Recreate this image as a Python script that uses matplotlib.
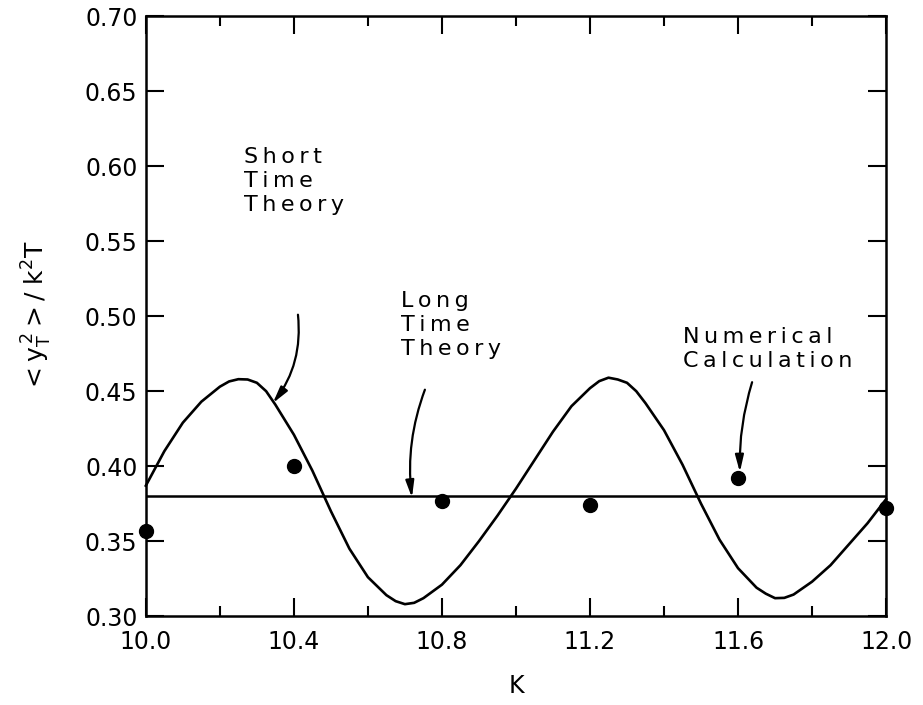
import numpy as np
import matplotlib
matplotlib.use('Agg')
import matplotlib.pyplot as plt

# short time theory curve
k_curve = [10.00, 10.05, 10.10, 10.15, 10.20, 10.225, 10.25, 10.275, 10.30, 10.325,
           10.35, 10.40, 10.45, 10.50, 10.55, 10.60, 10.65, 10.675, 10.70, 10.725,
           10.75, 10.80, 10.85, 10.90, 10.95, 11.00, 11.05, 11.10, 11.15, 11.20,
           11.225, 11.25, 11.275, 11.30, 11.325, 11.35, 11.40, 11.45, 11.50, 11.55,
           11.60, 11.65, 11.675, 11.70, 11.725, 11.75, 11.80, 11.85, 11.90, 11.95, 12.00]
y_curve = [0.387, 0.410, 0.429, 0.443, 0.453, 0.4565, 0.458, 0.4578, 0.4556, 0.4500,
           0.441, 0.421, 0.397, 0.370, 0.345, 0.326, 0.314, 0.3100, 0.308, 0.3089,
           0.312, 0.321, 0.334, 0.350, 0.367, 0.385, 0.404, 0.423, 0.440, 0.452,
           0.4567, 0.459, 0.4578, 0.4556, 0.450, 0.442, 0.424, 0.401, 0.375, 0.351,
           0.332, 0.319, 0.3150, 0.312, 0.3122, 0.3144, 0.323, 0.334, 0.348, 0.362, 0.378]

# long time theory
long_time_value = 0.38

# numerical calculation
k_points = [10.0, 10.4, 10.8, 11.2, 11.6, 12.0]
y_points = [0.357, 0.400, 0.377, 0.374, 0.392, 0.372]

x_ticks = [10.0, 10.4, 10.8, 11.2, 11.6, 12.0]
x_labels = ['10.0', '10.4', '10.8', '11.2', '11.6', '12.0']
y_ticks = [0.30, 0.35, 0.40, 0.45, 0.50, 0.55, 0.60, 0.65, 0.70]


def spaced(s):
    # letter-spaced lettering like the original
    return '\u2009'.join(s)


fig = plt.figure(figsize=(9.23, 7.05), dpi=100)
ax = fig.add_axes([0.158, 0.126, 0.802, 0.851])

ax.plot(k_curve, y_curve, color='black', lw=1.9, clip_on=False,
        solid_joinstyle='round')
ax.axhline(long_time_value, color='black', lw=1.8)
ax.plot(k_points, y_points, 'o', color='black', ms=10, clip_on=False, zorder=5)

ax.set_xlim(10.0, 12.0)
ax.set_ylim(0.30, 0.70)
ax.set_xticks(x_ticks)
ax.set_xticklabels(x_labels)
ax.set_xticks([10.2, 10.6, 11.0, 11.4, 11.8], minor=True)
ax.set_yticks(y_ticks)
ax.set_yticklabels([f'{v:.2f}' for v in y_ticks])

ax.tick_params(which='major', direction='in', length=13, width=1.5,
               top=True, right=True, labelsize=17)
ax.tick_params(axis='x', which='major', pad=10)
ax.tick_params(axis='y', which='major', pad=6)
ax.tick_params(which='minor', direction='in', length=7, width=1.5,
               top=True, right=False)
for s in ax.spines.values():
    s.set_linewidth(1.8)

ax.set_xlabel('K', fontsize=17, labelpad=14)
ax.set_ylabel(r'$\mathrm{<y_T^{\,2}>/\ k^2T}$', fontsize=18, labelpad=22)

txt = dict(fontsize=16, ha='left', va='top', linespacing=1.25)
arrow = dict(arrowstyle='-|>,head_length=1.0,head_width=0.25', color='black', lw=1.6,
             shrinkA=0, shrinkB=0)

ax.text(10.265, 0.613, '\n'.join(spaced(w) for w in ['Short', 'Time', 'Theory']), **txt)
ax.annotate('', xy=(10.343, 0.442), xytext=(10.411, 0.501),
            arrowprops=dict(connectionstyle='arc3,rad=-0.2', **arrow))

ax.text(10.69, 0.517, '\n'.join(spaced(w) for w in ['Long', 'Time', 'Theory']), **txt)
ax.annotate('', xy=(10.719, 0.379), xytext=(10.754, 0.451),
            arrowprops=dict(connectionstyle='arc3,rad=0.12', **arrow))

ax.text(11.45, 0.493, '\n'.join(spaced(w) for w in ['Numerical', 'Calculation']), **txt)
ax.annotate('', xy=(11.605, 0.396), xytext=(11.638, 0.456),
            arrowprops=dict(connectionstyle='arc3,rad=0.08', **arrow))

fig.savefig('out.png', dpi=100)
